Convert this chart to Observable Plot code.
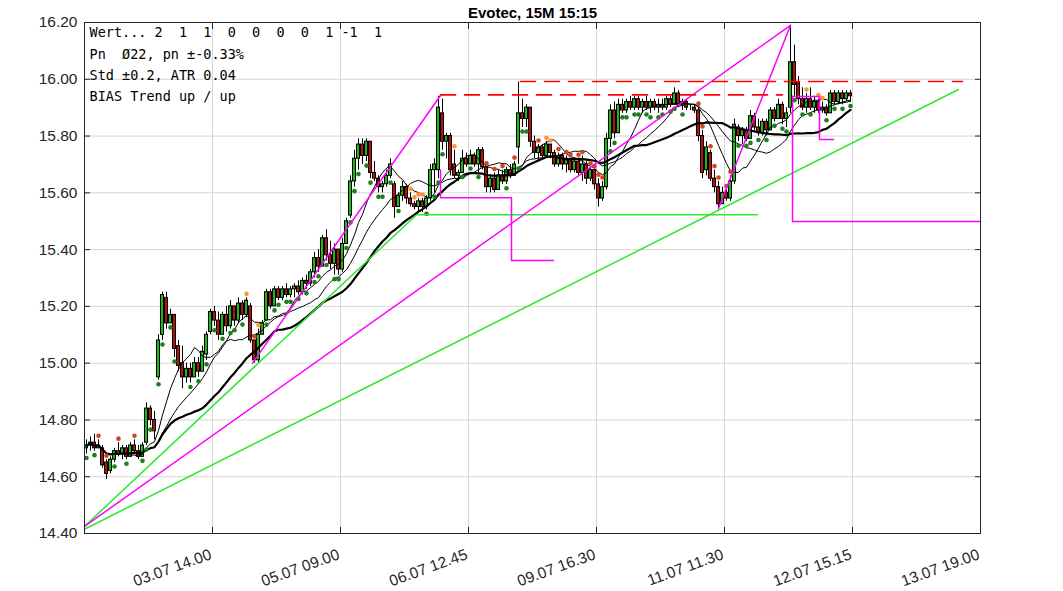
<!DOCTYPE html>
<html><head><meta charset="utf-8">
<script src="https://cdn.jsdelivr.net/npm/d3@7"></script>
<script src="https://cdn.jsdelivr.net/npm/@observablehq/plot@0.6"></script>
<style>body{margin:0;background:#fff}#chart svg{display:block}</style>
</head><body><div id="chart"></div>
<script>
const title = "Evotec, 15M 15:15";
const infoLines = [
  "Wert... 2  1  1  0  0  0  0  1 -1  1",
  "Pn  \u00D822, pn \u00B1-0.33%",
  "Std \u00B10.2, ATR 0.04",
  "BIAS Trend up / up"
];
const xTickIndex = [32, 64, 96, 128, 160, 192, 224];
const xTickLabels = ["03.07 14.00", "05.07 09.00", "06.07 12.45", "09.07 16.30", "11.07 11.30", "12.07 15.15", "13.07 19.00"];
const yTicks = [14.4, 14.6, 14.8, 15.0, 15.2, 15.4, 15.6, 15.8, 16.0, 16.2];

const opens = [
  14.70,14.71,14.72,14.70,14.70,14.65,14.62,14.66,14.69,14.68,14.70,14.67,14.71,14.69,14.67,14.72,
  14.84,14.80,14.95,15.10,15.23,15.14,15.17,15.06,15.00,14.95,14.98,14.95,15.00,14.97,15.03,15.11,
  15.18,15.15,15.10,15.17,15.13,15.20,15.15,15.21,15.17,15.20,15.08,15.01,15.10,15.15,15.25,15.20,
  15.26,15.23,15.26,15.24,15.26,15.27,15.25,15.29,15.28,15.32,15.37,15.34,15.44,15.38,15.35,15.40,
  15.33,15.42,15.52,15.64,15.72,15.77,15.73,15.78,15.67,15.65,15.62,15.63,15.66,15.63,15.55,15.59,
  15.62,15.58,15.56,15.55,15.57,15.55,15.58,15.68,15.68,15.88,15.78,15.80,15.70,15.66,15.67,15.72,
  15.70,15.73,15.70,15.75,15.69,15.62,15.65,15.61,15.66,15.64,15.68,15.66,15.76,15.88,15.86,15.90,
  15.78,15.74,15.76,15.73,15.77,15.74,15.70,15.73,15.70,15.72,15.68,15.71,15.67,15.70,15.65,15.68,
  15.63,15.58,15.62,15.79,15.89,15.81,15.91,15.89,15.92,15.90,15.93,15.90,15.92,15.90,15.92,15.90,
  15.91,15.90,15.93,15.91,15.95,15.91,15.92,15.90,15.90,15.89,15.80,15.68,15.74,15.65,15.62,15.56,
  15.60,15.58,15.64,15.83,15.80,15.82,15.79,15.87,15.83,15.81,15.85,15.82,15.89,15.86,15.91,15.86,
  15.90,16.06,15.99,15.93,15.90,15.93,15.90,15.92,15.89,15.90,15.88,15.95,15.92,15.95,15.93,15.95
];
const highs = [
  14.73,14.74,14.75,14.73,14.71,14.66,14.67,14.70,14.72,14.71,14.71,14.72,14.73,14.71,14.72,14.86,
  14.85,14.83,15.10,15.25,15.25,15.19,15.17,15.08,15.06,15.00,15.00,15.02,15.02,15.06,15.11,15.19,
  15.20,15.18,15.18,15.20,15.22,15.20,15.23,15.22,15.23,15.21,15.08,15.12,15.15,15.26,15.26,15.27,
  15.27,15.27,15.28,15.27,15.28,15.29,15.30,15.31,15.33,15.39,15.40,15.45,15.47,15.43,15.42,15.40,
  15.44,15.51,15.66,15.75,15.79,15.79,15.79,15.78,15.71,15.66,15.64,15.68,15.72,15.64,15.60,15.64,
  15.63,15.60,15.57,15.58,15.58,15.59,15.70,15.72,15.94,15.93,15.81,15.81,15.75,15.68,15.75,15.74,
  15.75,15.74,15.76,15.76,15.69,15.66,15.67,15.68,15.68,15.69,15.70,15.71,15.99,15.93,15.91,15.90,
  15.80,15.77,15.77,15.78,15.77,15.75,15.74,15.74,15.73,15.72,15.72,15.72,15.73,15.71,15.69,15.68,
  15.65,15.64,15.81,15.91,15.92,15.93,15.93,15.93,15.94,15.94,15.94,15.93,15.94,15.93,15.93,15.93,
  15.93,15.94,15.94,15.97,15.96,15.93,15.93,15.91,15.91,15.90,15.82,15.78,15.75,15.68,15.64,15.62,
  15.61,15.66,15.86,15.84,15.83,15.83,15.89,15.88,15.86,15.86,15.86,15.90,15.90,15.93,15.92,15.90,
  16.19,16.12,16.01,15.97,15.95,15.97,15.94,15.93,15.92,15.91,15.96,15.96,15.96,15.96,15.96,15.96
];
const lows = [
  14.68,14.69,14.69,14.70,14.63,14.59,14.61,14.65,14.67,14.66,14.66,14.67,14.68,14.66,14.67,14.71,
  14.78,14.73,14.94,15.08,15.12,15.14,15.02,14.97,14.91,14.93,14.93,14.95,14.95,14.97,15.01,15.10,
  15.13,15.08,15.10,15.11,15.12,15.13,15.14,15.15,15.16,15.07,15.00,15.00,15.10,15.15,15.19,15.20,
  15.22,15.22,15.23,15.23,15.23,15.24,15.24,15.26,15.27,15.30,15.32,15.34,15.36,15.33,15.31,15.31,
  15.32,15.42,15.51,15.62,15.68,15.70,15.71,15.65,15.64,15.60,15.60,15.62,15.65,15.51,15.55,15.57,
  15.56,15.55,15.54,15.53,15.53,15.54,15.57,15.60,15.65,15.75,15.72,15.66,15.65,15.64,15.67,15.69,
  15.70,15.69,15.67,15.68,15.60,15.60,15.60,15.61,15.63,15.63,15.65,15.66,15.70,15.83,15.83,15.76,
  15.72,15.71,15.72,15.73,15.72,15.69,15.69,15.68,15.67,15.67,15.67,15.66,15.64,15.63,15.64,15.61,
  15.55,15.57,15.61,15.76,15.79,15.81,15.88,15.88,15.89,15.89,15.89,15.88,15.89,15.88,15.89,15.88,
  15.89,15.89,15.90,15.91,15.90,15.89,15.89,15.89,15.88,15.78,15.65,15.66,15.64,15.60,15.54,15.56,
  15.57,15.57,15.63,15.78,15.77,15.78,15.79,15.82,15.80,15.80,15.80,15.82,15.85,15.86,15.84,15.83,
  15.88,15.94,15.91,15.89,15.88,15.89,15.88,15.88,15.88,15.87,15.88,15.91,15.91,15.91,15.92,15.92
];
const closes = [
  14.71,14.72,14.70,14.71,14.64,14.61,14.66,14.69,14.68,14.70,14.67,14.71,14.69,14.67,14.71,14.84,
  14.80,14.76,15.08,15.24,15.14,15.17,15.05,14.99,14.95,14.98,14.95,15.00,14.97,15.04,15.10,15.18,
  15.15,15.10,15.17,15.13,15.20,15.15,15.21,15.17,15.22,15.08,15.01,15.10,15.14,15.25,15.20,15.26,
  15.23,15.26,15.24,15.26,15.27,15.25,15.29,15.28,15.32,15.37,15.34,15.44,15.38,15.35,15.40,15.33,
  15.42,15.50,15.64,15.72,15.77,15.73,15.78,15.67,15.65,15.62,15.63,15.66,15.70,15.55,15.59,15.62,
  15.58,15.56,15.55,15.57,15.55,15.58,15.68,15.70,15.90,15.78,15.80,15.68,15.66,15.67,15.72,15.70,
  15.73,15.70,15.75,15.69,15.62,15.65,15.61,15.66,15.64,15.68,15.66,15.70,15.88,15.86,15.90,15.78,
  15.74,15.76,15.73,15.77,15.74,15.70,15.73,15.70,15.72,15.68,15.71,15.67,15.70,15.65,15.68,15.63,
  15.58,15.62,15.79,15.89,15.81,15.91,15.89,15.92,15.90,15.93,15.90,15.92,15.90,15.92,15.90,15.91,
  15.90,15.93,15.91,15.95,15.91,15.92,15.90,15.90,15.89,15.80,15.67,15.76,15.65,15.62,15.56,15.60,
  15.58,15.64,15.84,15.80,15.82,15.79,15.87,15.83,15.81,15.85,15.82,15.89,15.86,15.91,15.86,15.88,
  16.06,15.98,15.93,15.90,15.93,15.90,15.92,15.89,15.90,15.88,15.95,15.92,15.95,15.93,15.95,15.94
];
// dot signal per bar: g = green (below), r = red (above), o = orange (above), . = none
const dotSignals =
  "g.gr.r.gr.g.r.gg" + "g.gg.gg...g.g.g." + "g.g.gg.go.ro.g.g" + "g.gg.g.g.gg.g.gg" +
  ".gggg.gg.gg.g.g." + ".oooog.ggg..o.g." + "g.g.r.r.rg.rggg." + ".r.oo.r.rr.rr.rr" +
  "rr.gg.gg.gg.gg.g" + "g.gg.g...rr.rrr." + "rr.g.gg.g.g.g.gg" + ".g.gog.oog.g.g.g";

// trend / zigzag / stop lines in (bar index, price)
const greenLines = [
  {id: "g1", pts: [[0, 14.425], [83, 15.523], [168.25, 15.523]]},
  {id: "g2", pts: [[0, 14.415], [218.5, 15.964]]}
];
const magentaLines = [
  {id: "m1", pts: [[0, 14.425], [176.5, 16.19]]},
  {id: "m2", pts: [[42, 15.00], [89, 15.943]]},
  {id: "m3", pts: [[158.5, 15.545], [176.5, 16.19]]},
  {id: "s1", pts: [[89, 15.68], [89, 15.583], [106.75, 15.583], [106.75, 15.362], [117.25, 15.362]]},
  {id: "s2", pts: [[177, 15.94], [177, 15.499], [224, 15.499]]},
  {id: "s3", pts: [[177, 15.939], [183.75, 15.939], [183.75, 15.788], [187.25, 15.788]]}
];
const redDashed = [
  {id: "d1", pts: [[89, 15.945], [174.5, 15.945]]},
  {id: "d2", pts: [[109, 15.992], [219.5, 15.992]]}
];

const bars = closes.map((c, i) => ({i, o: opens[i], h: highs[i], l: lows[i], c, up: c >= opens[i], sig: dotSignals[i]}));
const flat = (arr) => arr.flatMap(l => l.pts.map(p => ({id: l.id, x: p[0], y: p[1]})));

const chart = Plot.plot({
  width: 1063, height: 591,
  marginLeft: 84, marginRight: 83, marginTop: 22, marginBottom: 58,
  style: {fontFamily: "'Liberation Sans', Arial, sans-serif", fontSize: "15px", color: "#262626", background: "#fff"},
  x: {domain: [0, 224], axis: null},
  y: {domain: [14.4, 16.2], axis: null},
  marks: [
    Plot.gridY(yTicks, {stroke: "#d6d6d6", strokeOpacity: 1}),
    Plot.gridX(xTickIndex, {stroke: "#d6d6d6", strokeOpacity: 1}),
    Plot.axisY({ticks: yTicks, tickSize: 0, tickPadding: 7, tickFormat: d => d.toFixed(2), fontSize: 15.5, label: null}),
    Plot.axisY({ticks: yTicks, anchor: "left", tickSize: 6, dx: 6, tickFormat: () => "", stroke: "#262626", label: null}),
    Plot.axisY({ticks: yTicks, anchor: "right", tickSize: 6, dx: -6, tickFormat: () => "", stroke: "#262626", label: null}),
    Plot.axisX({ticks: xTickIndex, anchor: "bottom", tickSize: 6, dy: -6, tickFormat: () => "", stroke: "#262626", label: null}),
    Plot.axisX({ticks: xTickIndex, anchor: "top", tickSize: 6, dy: 6, tickFormat: () => "", stroke: "#262626", label: null}),
    Plot.text(xTickIndex, {x: d => d, text: (d, i) => xTickLabels[i], frameAnchor: "bottom", dy: 25, rotate: -20, textAnchor: "end", fontSize: 15.5, fill: "#262626"}),
    Plot.text([title], {frameAnchor: "top", dy: -15, fontWeight: "bold", fontSize: 15, fill: "#000"}),
    Plot.ruleX(bars, {x: d => d.i + 0.5, y1: "l", y2: "h", stroke: "#000", strokeWidth: 1}),
    Plot.rect(bars, {x1: d => d.i + 0.12, x2: d => d.i + 0.88, y1: "o", y2: "c", fill: d => d.up ? "#1cb81c" : "#b31010", stroke: "#000", strokeWidth: 1}),
    Plot.lineY(bars, Plot.windowY({k: 10, reduce: "mean", anchor: "end"}, {x: d => d.i + 0.5, y: "c", stroke: "#000", strokeWidth: 1})),
    Plot.lineY(bars, Plot.windowY({k: 18, reduce: "mean", anchor: "end"}, {x: d => d.i + 0.5, y: "c", stroke: "#000", strokeWidth: 1})),
    Plot.lineY(bars, Plot.windowY({k: 30, reduce: "mean", anchor: "end"}, {x: d => d.i + 0.5, y: "c", stroke: "#000", strokeWidth: 2.2})),
    Plot.dot(bars.filter(d => d.sig === "g"), {x: d => d.i + 0.5, y: "l", dy: 4, r: 2.3, fill: "#1e7d1e"}),
    Plot.dot(bars.filter(d => d.sig === "r"), {x: d => d.i + 0.5, y: "h", dy: -4, r: 2.3, fill: "#d0451c"}),
    Plot.dot(bars.filter(d => d.sig === "o"), {x: d => d.i + 0.5, y: "h", dy: -4, r: 2.3, fill: "#ff9433"}),
    Plot.line(flat(greenLines), {x: "x", y: "y", z: "id", stroke: "#2ee82e", strokeWidth: 1.5}),
    Plot.line(flat(magentaLines), {x: "x", y: "y", z: "id", stroke: "#ff00ff", strokeWidth: 1.5}),
    Plot.line(flat(redDashed), {x: "x", y: "y", z: "id", stroke: "#ff0000", strokeWidth: 1.6, strokeDasharray: "15,9"}),
    Plot.text([infoLines.join("\n")], {frameAnchor: "top-left", dx: 5, dy: 0, lineAnchor: "top", lineHeight: 1.56, textAnchor: "start", fontFamily: "'DejaVu Sans Mono', monospace", fontSize: 13.5, fill: "#000"}),
    Plot.frame({stroke: "#262626"})
  ]
});
document.getElementById("chart").appendChild(chart);
</script>
</body></html>
